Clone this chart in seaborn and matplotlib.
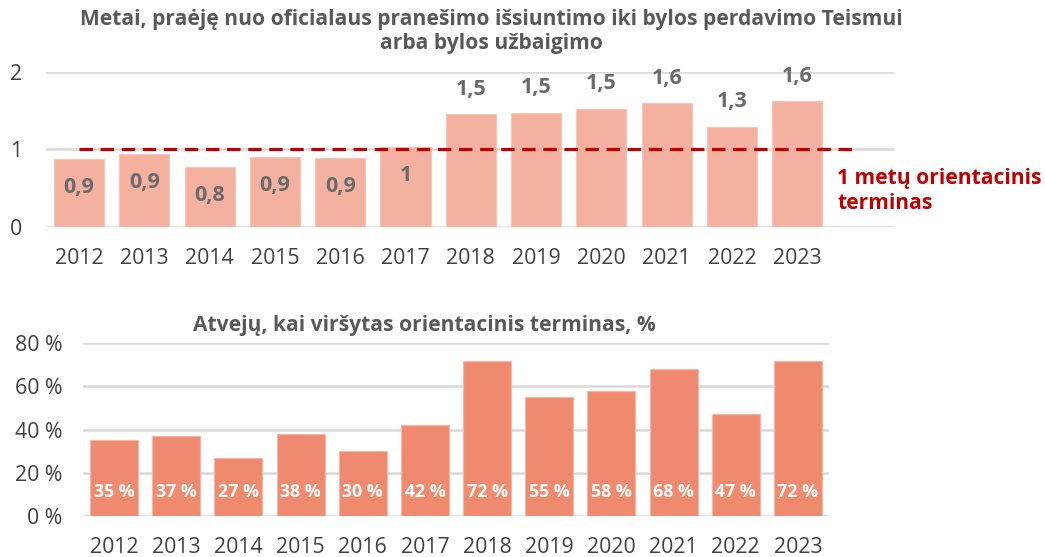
import matplotlib
matplotlib.use("Agg")
import matplotlib.pyplot as plt
import seaborn as sns
import pandas as pd

years = ["2012", "2013", "2014", "2015", "2016", "2017",
         "2018", "2019", "2020", "2021", "2022", "2023"]
years_values = [0.88, 0.94, 0.775, 0.91, 0.895, 1.036,
                1.45, 1.47, 1.525, 1.594, 1.29, 1.62]
years_labels = ["0,9", "0,9", "0,8", "0,9", "0,9", "1",
                "1,5", "1,5", "1,5", "1,6", "1,3", "1,6"]
exceeded_pct = [35, 37, 27, 38, 30, 42, 72, 55, 58, 68, 47, 72]
target_years = 1.0

title_top = "Metai, praėję nuo oficialaus pranešimo išsiuntimo iki bylos perdavimo Teismui\narba bylos užbaigimo"
title_bottom = "Atvejų, kai viršytas orientacinis terminas, %"
target_label = "1 metų orientacinis\nterminas"

sns.set_style("white")
plt.rcParams['font.family'] = ['Open Sans', 'DejaVu Sans']

GRID = "#D9D9D9"
TXT = "#404040"
TITLE = "#595959"
RED = "#C00000"

fig = plt.figure(figsize=(10.45, 5.57), dpi=100)
ax1 = fig.add_axes([46/1045, 1-227.3/557, (894-46)/1045, (227.3-71.7)/557])
ax2 = fig.add_axes([83/1045, 1-515.7/557, (829-83)/1045, (515.7-343.3)/557])

df1 = pd.DataFrame({"year": years, "value": years_values})
df2 = pd.DataFrame({"year": years, "value": exceeded_pct})

sns.barplot(data=df1, x="year", y="value", ax=ax1, color="#F4B1A0",
            width=0.766, saturation=1, edgecolor="#F8C6B8", linewidth=0.8, zorder=2)
sns.barplot(data=df2, x="year", y="value", ax=ax2, color="#F08A6F",
            width=0.77, saturation=1, edgecolor="#F6B8A6", linewidth=0.8, zorder=2)

for ax in (ax1, ax2):
    for s in ax.spines.values():
        s.set_visible(False)
    ax.set_xlabel("")
    ax.set_ylabel("")
    ax.tick_params(axis="both", length=0, colors=TXT, labelsize=15.3)
    ax.grid(False)
    ax.set_axisbelow(True)

# Top chart
ax1.set_ylim(0, 2)
ax1.set_xlim(-0.505, 12.48)
ax1.set_yticks([0, 1, 2])
ax1.set_yticklabels(["0", "1", "2"])
for y in [0, 1, 2]:
    ax1.axhline(y, color=GRID, lw=1.8, zorder=0)
ax1.tick_params(axis="y", pad=17)
ax1.tick_params(axis="x", pad=15)
ax1.plot([0, 11.88], [target_years, target_years], color=RED, lw=2.3,
         dashes=(4.2, 2.4), zorder=3)
for i, (v, lab) in enumerate(zip(years_values, years_labels)):
    if v < 1.2:
        ax1.text(i, v - 0.37, lab, ha="center", va="center", fontsize=15.5,
                 fontweight="bold", color="#6B6B6B", zorder=4)
    else:
        ax1.annotate(lab, (i, v), xytext=(0, 18), textcoords="offset points",
                     ha="center", va="center", fontsize=15.5,
                     fontweight="bold", color="#6B6B6B", zorder=4)
fig.text(491/1045, 1-9/557, title_top, ha="center", va="top", fontsize=15.1,
         fontweight="bold", color=TITLE, linespacing=1.2)
fig.text(837/1045, 1-191/557, target_label, ha="left", va="center", fontsize=15.1,
         fontweight="bold", color=RED, linespacing=1.3)

# Bottom chart
ax2.set_ylim(0, 80)
ax2.set_xlim(-0.5, 11.5)
ax2.set_yticks([0, 20, 40, 60, 80])
ax2.set_yticklabels(["0 %", "20 %", "40 %", "60 %", "80 %"])
for y in [0, 20, 40, 60, 80]:
    ax2.axhline(y, color=GRID, lw=1.8, zorder=0)
ax2.tick_params(axis="y", pad=15)
ax2.tick_params(axis="x", pad=15)
for i, v in enumerate(exceeded_pct):
    ax2.text(i, 11, f"{v} %", ha="center", va="center", fontsize=12.8,
             fontweight="bold", color="white", zorder=4)
fig.text(424/1045, 1-325/557, title_bottom, ha="center", va="center", fontsize=15.1,
         fontweight="bold", color=TITLE)

fig.savefig("out.png", dpi=100)
